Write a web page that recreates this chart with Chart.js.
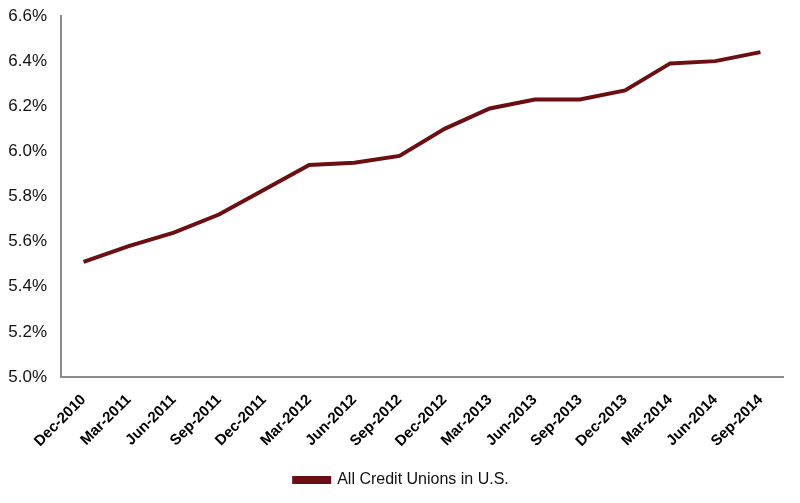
<!DOCTYPE html>
<html>
<head>
<meta charset="utf-8">
<script src="https://cdn.jsdelivr.net/npm/chart.js@4/dist/chart.umd.min.js"></script>
<style>
  html, body { margin: 0; padding: 0; background: #fff; }
  #wrap { width: 800px; height: 503px; }
</style>
</head>
<body>
<div id="wrap"><canvas id="chart" width="800" height="503"></canvas></div>
<script>
// Quarterly data
const quarters = ['Dec-2010', 'Mar-2011', 'Jun-2011', 'Sep-2011', 'Dec-2011', 'Mar-2012', 'Jun-2012', 'Sep-2012',
  'Dec-2012', 'Mar-2013', 'Jun-2013', 'Sep-2013', 'Dec-2013', 'Mar-2014', 'Jun-2014', 'Sep-2014'];
const creditUnions = [5.51, 5.58, 5.64, 5.72, 5.83, 5.94, 5.95, 5.98, 6.10, 6.19, 6.23, 6.23, 6.27, 6.39, 6.40, 6.44];
const seriesName = 'All Credit Unions in U.S.';
const yMin = 5.0;
const yMax = 6.6;
const yStep = 0.2;

const lineColor = '#6b0f12';
const axisColor = '#8c8c8c';
const fontFamily = 'Liberation Sans, Arial, sans-serif';

// nudge the legend a bit to the right, like the original
const legendShift = {
  id: 'legendShift',
  afterLayout(chart) {
    if (chart.legend) {
      chart.legend.left += 10;
      chart.legend.right += 10;
    }
  }
};

const ctx = document.getElementById('chart');
new Chart(ctx, {
  type: 'line',
  data: {
    labels: quarters,
    datasets: [{
      label: seriesName,
      data: creditUnions,
      borderColor: lineColor,
      backgroundColor: lineColor,
      borderWidth: 4,
      pointRadius: 0,
      tension: 0,
      fill: false
    }]
  },
  options: {
    responsive: false,
    animation: false,
    layout: {
      padding: { left: 0, right: 17, top: 0, bottom: 5 }
    },
    plugins: {
      legend: {
        display: true,
        position: 'bottom',
        labels: {
          boxWidth: 35,
          boxHeight: 4,
          padding: 10,
          color: '#111',
          font: { family: fontFamily, size: 16 }
        }
      },
      tooltip: { enabled: false }
    },
    scales: {
      x: {
        offset: true,
        grid: { display: false, drawTicks: false },
        border: { display: true, color: axisColor, width: 2 },
        ticks: {
          minRotation: 45,
          maxRotation: 45,
          autoSkip: false,
          padding: 14,
          color: '#000',
          font: { family: fontFamily, size: 15, weight: 'bold' }
        },
        afterFit: (scale) => { scale.height = 85; }
      },
      y: {
        min: yMin,
        max: yMax,
        grid: { display: false, drawTicks: false },
        border: { display: true, color: axisColor, width: 2 },
        ticks: {
          stepSize: yStep,
          padding: 14,
          color: '#111',
          font: { family: fontFamily, size: 17 },
          callback: (v) => v.toFixed(1) + '%'
        },
        afterFit: (scale) => {
          scale.width = 61;
          scale.paddingTop = 16;
        }
      }
    }
  },
  plugins: [legendShift]
});
</script>
</body>
</html>
